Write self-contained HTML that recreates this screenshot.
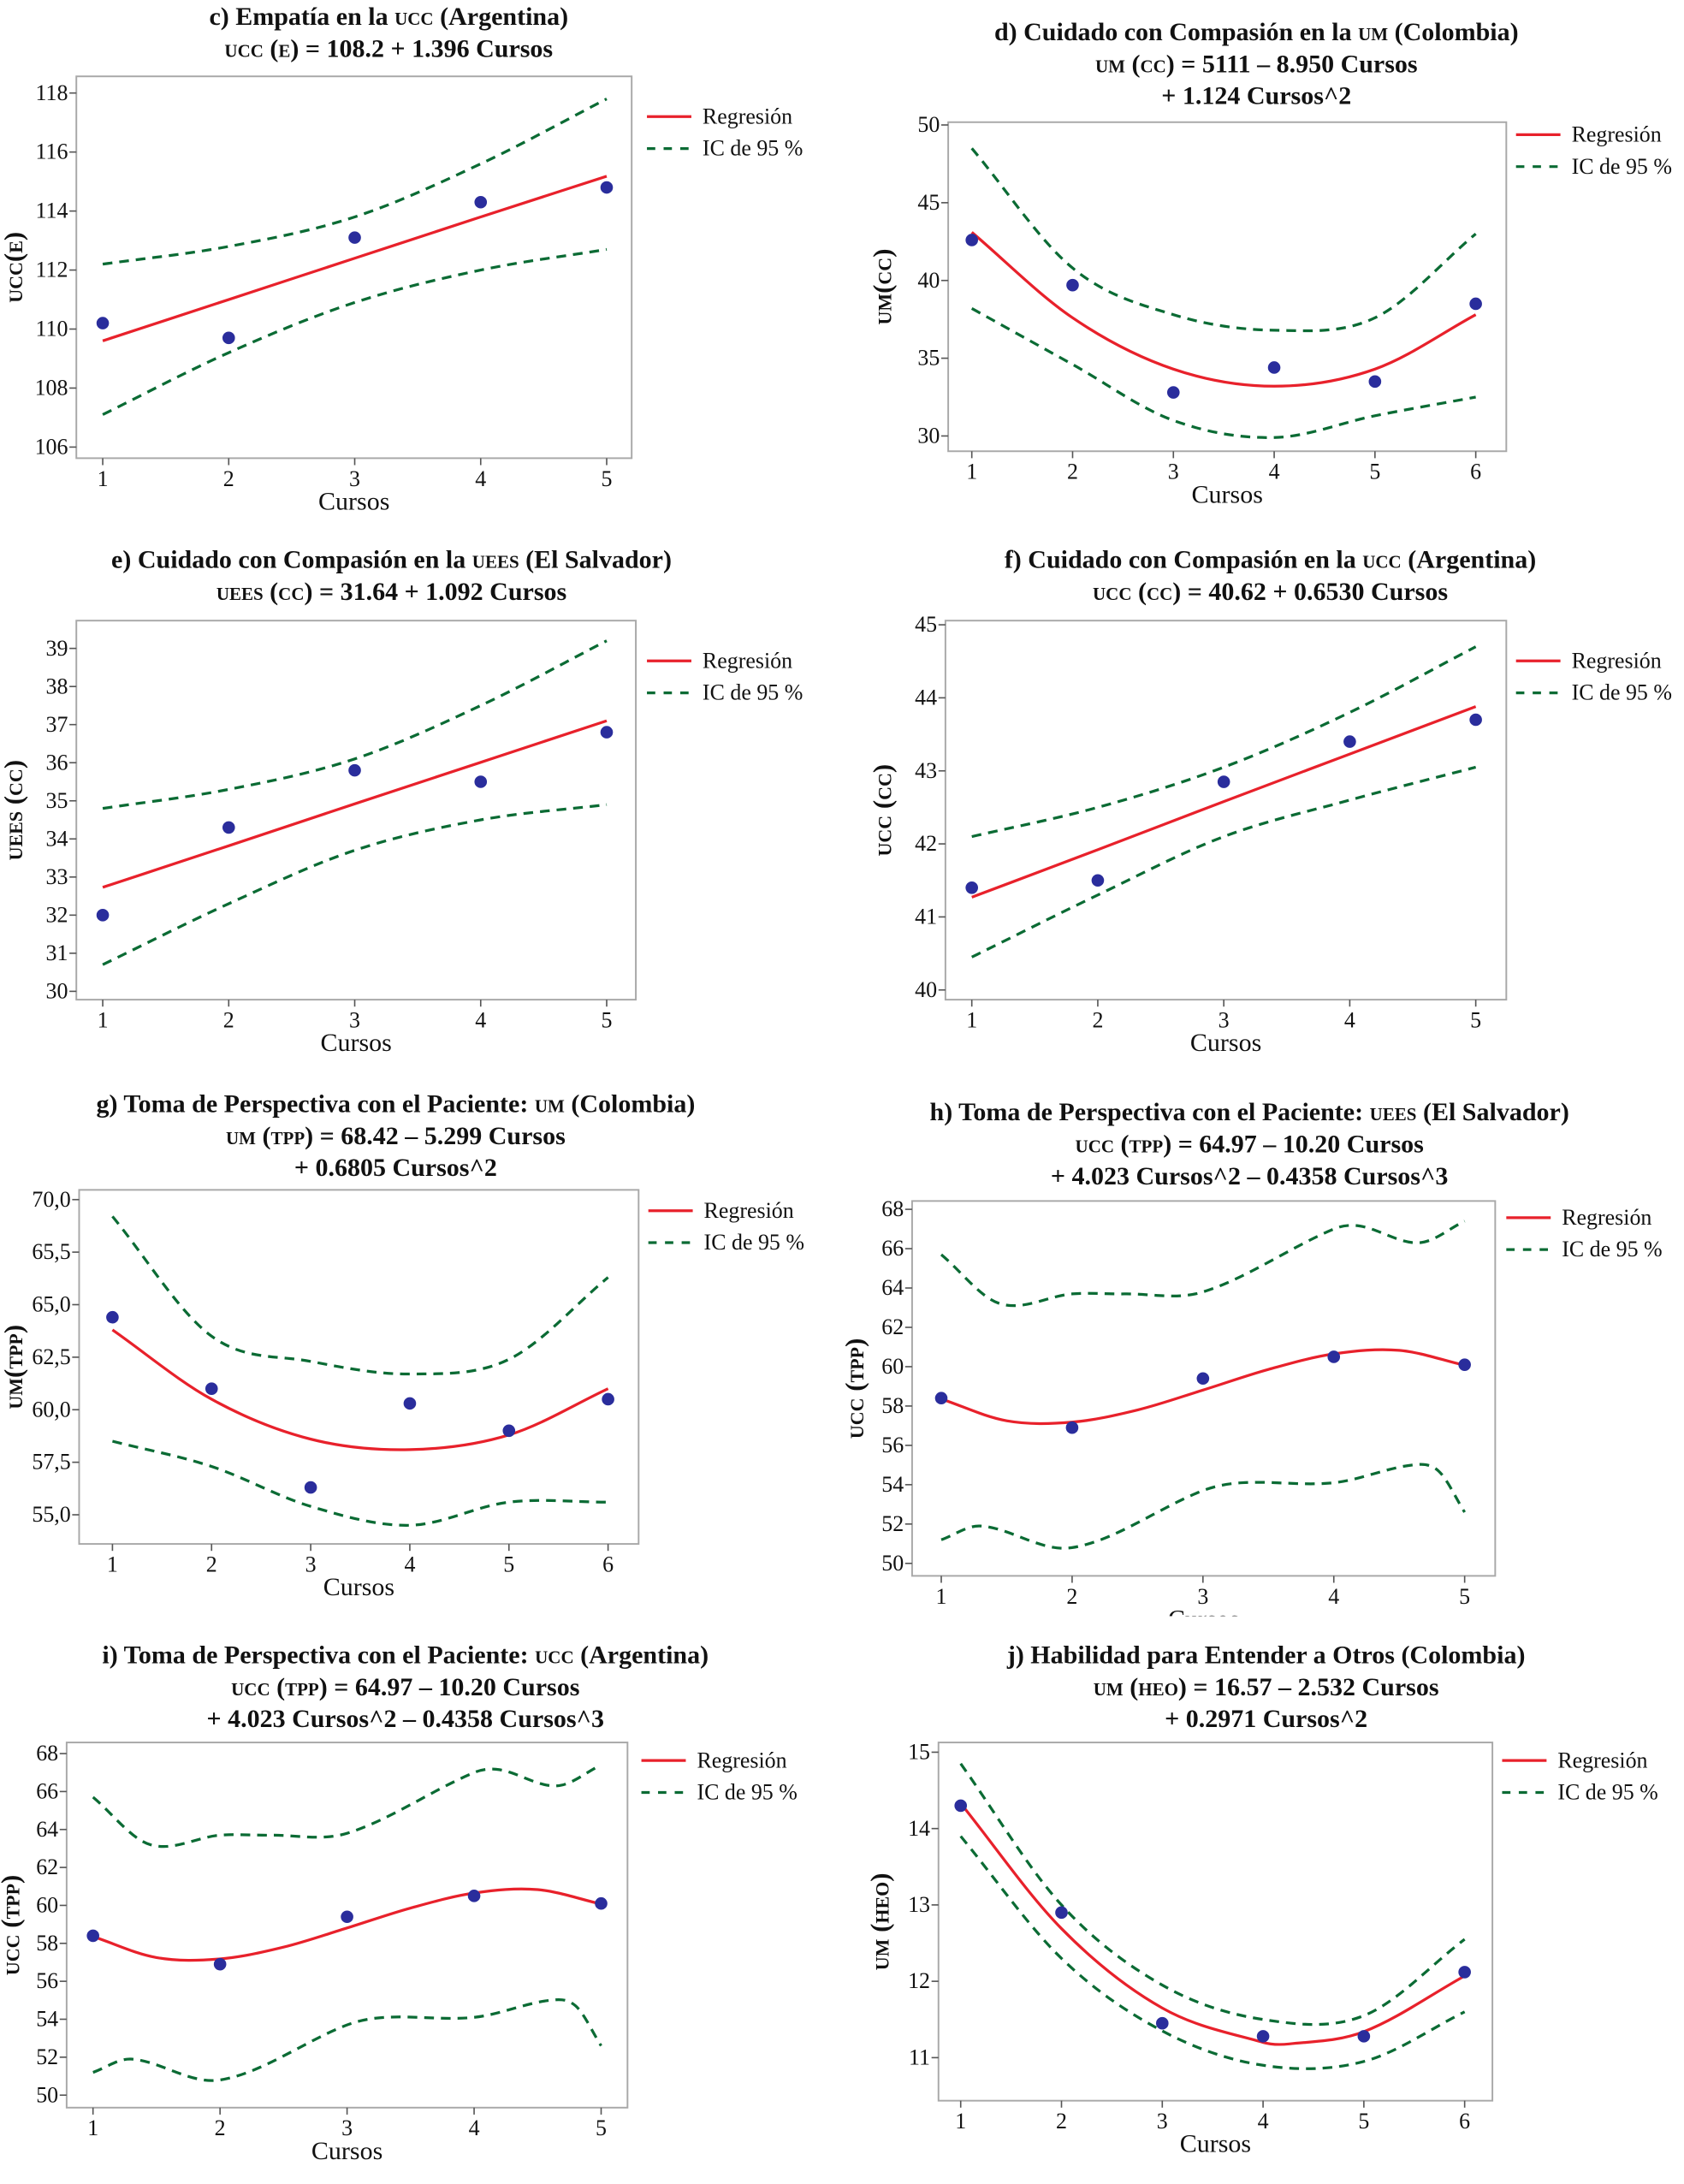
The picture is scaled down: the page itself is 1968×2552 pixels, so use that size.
<!DOCTYPE html>
<html><head><meta charset="utf-8">
<style>
html,body{margin:0;padding:0;background:#fff;}
svg{display:block;}
text{font-family:"Liberation Serif",serif;fill:#111;}
</style></head>
<body>
<svg id="fig" width="1968" height="2552" viewBox="0 0 1213 1573" preserveAspectRatio="none" xmlns="http://www.w3.org/2000/svg"></svg>
<script>
// ---- data ----
const cX = [1,2,3,4,5];
const cPts = [110.2,109.7,113.1,114.3,114.8];
const cReg = [109.6,111.0,112.4,113.8,115.18];
const cUp = [112.2,112.8,113.8,115.6,117.8];
const cLo = [107.1,109.2,110.9,112.0,112.7];
const cTicksY = [106,108,110,112,114,116,118];

const dX = [1,2,3,4,5,6];
const dPts = [42.6,39.7,32.8,34.4,33.5,38.5];
const dReg = [43.1,37.6,34.3,33.2,34.3,37.8];
const dUp = [48.5,40.8,37.8,36.8,37.6,43.0];
const dLo = [38.2,34.6,31.0,29.9,31.3,32.5];
const dTicksY = [30,35,40,45,50];

const eX = [1,2,3,4,5];
const ePts = [32.0,34.3,35.8,35.5,36.8];
const eReg = [32.73,33.82,34.92,36.01,37.1];
const eUp = [34.8,35.3,36.1,37.5,39.2];
const eLo = [30.7,32.3,33.7,34.5,34.9];
const eTicksY = [30,31,32,33,34,35,36,37,38,39];

const fX = [1,2,3,4,5];
const fPts = [41.4,41.5,42.85,43.4,43.7];
const fReg = [41.27,41.92,42.58,43.23,43.88];
const fUp = [42.1,42.5,43.05,43.8,44.7];
const fLo = [40.45,41.3,42.1,42.6,43.05];
const fTicksY = [40,41,42,43,44,45];

const gX = [1,2,3,4,5,6];
const gPts = [64.4,61.0,56.3,60.3,59.0,60.5];
const gReg = [63.8,60.5,58.6,58.1,58.8,61.0];
const gUp = [69.2,63.5,62.3,61.7,62.4,66.3];
const gLo = [58.5,57.3,55.4,54.5,55.6,55.6];
const gTicksY = [55,57.5,60,62.5,65,67.5,70];
const gTickLbl = ["55,0","57,5","60,0","62,5","65,0","65,5","70,0"];

const hPtsX = [1,2,3,4,5];
const hPts = [58.4,56.9,59.4,60.5,60.1];
const hRegX = [1,1.5,2,2.5,3,3.5,4,4.5,5];
const hReg = [58.36,57.25,57.18,57.8,58.81,59.86,60.65,60.83,60.07];
const hUpX = [1,1.45,2,2.4,3,4,4.2,4.65,5];
const hUp = [65.7,63.2,63.7,63.7,63.8,67.0,67.15,66.3,67.4];
const hLoX = [1,1.3,2,3,3.3,4,4.6,4.8,5];
const hLo = [51.2,51.9,50.8,53.7,54.1,54.1,55.0,54.7,52.6];
const hTicksY = [50,52,54,56,58,60,62,64,66,68];

const jX = [1,2,3,4,5,6];
const jPts = [14.3,12.9,11.45,11.28,11.28,12.12];
const jRegX = [1,2,3,4,4.26,5,6];
const jReg = [14.33,12.69,11.65,11.2,11.18,11.34,12.07];
const jUp = [14.85,13.0,11.95,11.5,11.55,12.55];
const jLo = [13.9,12.3,11.35,10.9,10.95,11.6];
const jTicksY = [11,12,13,14,15];

const svg = document.getElementById('fig');
const NS = 'http://www.w3.org/2000/svg';
function mk(tag, attrs, parent){
  const e = document.createElementNS(NS, tag);
  for (const k in attrs) e.setAttribute(k, attrs[k]);
  (parent||svg).appendChild(e);
  return e;
}
// cubic Hermite in x (smooth for non-uniform spacing)
function smooth(pts){
  const n = pts.length;
  const m = pts.map((p,i)=>{
    const a = pts[Math.max(0,i-1)], b = pts[Math.min(n-1,i+1)];
    return (b[1]-a[1])/(b[0]-a[0]);
  });
  let d = 'M'+pts[0][0]+','+pts[0][1];
  for (let i=0;i<n-1;i++){
    const p1=pts[i], p2=pts[i+1], dx=(p2[0]-p1[0])/3;
    d+=' C'+(p1[0]+dx)+','+(p1[1]+m[i]*dx)+' '+(p2[0]-dx)+','+(p2[1]-m[i+1]*dx)+' '+p2[0]+','+p2[1];
  }
  return d;
}
function titleLine(g, x, y, parts){
  const t = mk('text',{x:x,y:y,'text-anchor':'middle','font-size':18.5,'font-weight':'bold'},g);
  parts.forEach(p=>{
    const s = mk('tspan',{},t);
    if (p.sc){ s.setAttribute('font-variant','small-caps'); }
    s.textContent = p.t;
  });
  return t;
}
function panel(o){
  const g = mk('g',{});
  
  
  const xs = v => o.x0px + (v - o.x0) * (o.x1px - o.x0px) / (o.x1 - o.x0);
  const ys = v => o.y0px + (v - o.y0) * (o.y1px - o.y0px) / (o.y1 - o.y0);
  o.titles.forEach((parts,i)=>{
    const t = titleLine(g, o.tcx, o.ty + i*23, parts);
    
    
  });
  const fr = mk('rect',{x:o.L,y:o.T,width:o.R-o.L,height:o.B-o.T,fill:'none',stroke:'#a8a8a8','stroke-width':1.2},g);
  
  
  o.xticks.forEach(v=>{
    const X = xs(v);
    mk('line',{x1:X,x2:X,y1:o.B,y2:o.B+5,stroke:'#555','stroke-width':1},g);
    const t = mk('text',{x:X,y:o.B+20,'text-anchor':'middle','font-size':16},g);
    
    
    t.textContent = v;
  });
  o.yticks.forEach((v,i)=>{
    const Y = ys(v);
    mk('line',{x1:o.L-5,x2:o.L,y1:Y,y2:Y,stroke:'#555','stroke-width':1},g);
    const t = mk('text',{x:o.L-6,y:Y+5,'text-anchor':'end','font-size':16},g);
    
    
    t.textContent = o.ylabels ? o.ylabels[i] : v;
  });
  const xt = mk('text',{x:(o.L+o.R)/2,y:o.B+37,'text-anchor':'middle','font-size':18.5},g);
  
  
  xt.textContent = 'Cursos';
  const yc = (o.T+o.B)/2;
  const yt = mk('text',{x:0,y:0,'text-anchor':'middle','font-size':19,'font-weight':'bold','font-variant':'small-caps',transform:'translate('+(o.yLabX)+','+yc+') rotate(-90)'},g);
  
  
  yt.textContent = o.ylab;
  const up = mk('path',{d:smooth(o.upX.map((v,i)=>[xs(v),ys(o.up[i])])),fill:'none',stroke:'#0b6b34','stroke-width':2,'stroke-dasharray':'7,5'},g);
  
  
  const lo = mk('path',{d:smooth(o.loX.map((v,i)=>[xs(v),ys(o.lo[i])])),fill:'none',stroke:'#0b6b34','stroke-width':2,'stroke-dasharray':'7,5'},g);
  
  
  const rg = mk('path',{d:smooth(o.regX.map((v,i)=>[xs(v),ys(o.reg[i])])),fill:'none',stroke:'#e8212b','stroke-width':2},g);
  
  
  o.ptsX.forEach((v,i)=>{
    const c = mk('circle',{cx:xs(v),cy:ys(o.pts[i]),r:4.5,fill:'#2a2d9c'},g);
    
    
  });
  const lg = mk('g',{},g);
  
  
  mk('line',{x1:o.lx,x2:o.lx+32,y1:o.ly,y2:o.ly,stroke:'#e8212b','stroke-width':2},lg);
  const l1 = mk('text',{x:o.lx+40,y:o.ly+5,'font-size':16},lg);
  
  
  l1.textContent = 'Regresión';
  mk('line',{x1:o.lx,x2:o.lx+32,y1:o.ly+23,y2:o.ly+23,stroke:'#0b6b34','stroke-width':2,'stroke-dasharray':'6,6'},lg);
  const l2 = mk('text',{x:o.lx+40,y:o.ly+28,'font-size':16},lg);
  
  
  l2.textContent = 'IC de 95 %';
}

panel({name:'panel-c',L:55,R:455,T:55,B:330,x0:1,x1:5,x0px:74,x1px:437,y0:106,y1:118,y0px:322,y1px:67,
  xticks:[1,2,3,4,5],yticks:cTicksY,ylab:'ucc(e)',yLabX:16,tcx:280,ty:18,
  titles:[[{t:'c) Empatía en la '},{t:'ucc',sc:1},{t:' (Argentina)'}],[{t:'ucc (e)',sc:1},{t:' = 108.2 + 1.396 Cursos'}]],
  ptsX:cX,pts:cPts,regX:cX,reg:cReg,upX:cX,up:cUp,loX:cX,lo:cLo,lx:466,ly:84});

panel({name:'panel-d',L:683,R:1085,T:88,B:325,x0:1,x1:6,x0px:700,x1px:1063,y0:30,y1:50,y0px:314,y1px:90,
  xticks:[1,2,3,4,5,6],yticks:dTicksY,ylab:'um(cc)',yLabX:642,tcx:905,ty:29,
  titles:[[{t:'d) Cuidado con Compasión en la '},{t:'um',sc:1},{t:' (Colombia)'}],[{t:'um (cc)',sc:1},{t:' = 5111 – 8.950 Cursos'}],[{t:'+ 1.124 Cursos^2'}]],
  ptsX:dX,pts:dPts,regX:dX,reg:dReg,upX:dX,up:dUp,loX:dX,lo:dLo,lx:1092,ly:97});

panel({name:'panel-e',L:55,R:458,T:447,B:720,x0:1,x1:5,x0px:74,x1px:437,y0:30,y1:39,y0px:714,y1px:467,
  xticks:[1,2,3,4,5],yticks:eTicksY,ylab:'uees (cc)',yLabX:16,tcx:282,ty:409,
  titles:[[{t:'e) Cuidado con Compasión en la '},{t:'uees',sc:1},{t:' (El Salvador)'}],[{t:'uees (cc)',sc:1},{t:' = 31.64 + 1.092 Cursos'}]],
  ptsX:eX,pts:ePts,regX:eX,reg:eReg,upX:eX,up:eUp,loX:eX,lo:eLo,lx:466,ly:476});

panel({name:'panel-f',L:681,R:1085,T:447,B:720,x0:1,x1:5,x0px:700,x1px:1063,y0:40,y1:45,y0px:713,y1px:450,
  xticks:[1,2,3,4,5],yticks:fTicksY,ylab:'ucc (cc)',yLabX:642,tcx:915,ty:409,
  titles:[[{t:'f) Cuidado con Compasión en la '},{t:'ucc',sc:1},{t:' (Argentina)'}],[{t:'ucc (cc)',sc:1},{t:' = 40.62 + 0.6530 Cursos'}]],
  ptsX:fX,pts:fPts,regX:fX,reg:fReg,upX:fX,up:fUp,loX:fX,lo:fLo,lx:1092,ly:476});

panel({name:'panel-g',L:57,R:460,T:857,B:1112,x0:1,x1:6,x0px:81,x1px:438,y0:55,y1:70,y0px:1091,y1px:864,
  xticks:[1,2,3,4,5,6],yticks:gTicksY,ylabels:gTickLbl,ylab:'um(tpp)',yLabX:16,tcx:285,ty:801,
  titles:[[{t:'g) Toma de Perspectiva con el Paciente: '},{t:'um',sc:1},{t:' (Colombia)'}],[{t:'um (tpp)',sc:1},{t:' = 68.42 – 5.299 Cursos'}],[{t:'+ 0.6805 Cursos^2'}]],
  ptsX:gX,pts:gPts,regX:gX,reg:gReg,upX:gX,up:gUp,loX:gX,lo:gLo,lx:467,ly:872});

panel({name:'panel-h',L:657,R:1077,T:865,B:1135,x0:1,x1:5,x0px:678,x1px:1055,y0:50,y1:68,y0px:1126,y1px:871,
  xticks:[1,2,3,4,5],yticks:hTicksY,ylab:'ucc (tpp)',yLabX:622,tcx:900,ty:807,
  titles:[[{t:'h) Toma de Perspectiva con el Paciente: '},{t:'uees',sc:1},{t:' (El Salvador)'}],[{t:'ucc (tpp)',sc:1},{t:' = 64.97 – 10.20 Cursos'}],[{t:'+ 4.023 Cursos^2 – 0.4358 Cursos^3'}]],
  ptsX:hPtsX,pts:hPts,regX:hRegX,reg:hReg,upX:hUpX,up:hUp,loX:hLoX,lo:hLo,lx:1085,ly:877});

panel({name:'panel-i',L:48,R:452,T:1255,B:1518,x0:1,x1:5,x0px:67,x1px:433,y0:50,y1:68,y0px:1509,y1px:1263,
  xticks:[1,2,3,4,5],yticks:hTicksY,ylab:'ucc (tpp)',yLabX:14,tcx:292,ty:1198,
  titles:[[{t:'i) Toma de Perspectiva con el Paciente: '},{t:'ucc',sc:1},{t:' (Argentina)'}],[{t:'ucc (tpp)',sc:1},{t:' = 64.97 – 10.20 Cursos'}],[{t:'+ 4.023 Cursos^2 – 0.4358 Cursos^3'}]],
  ptsX:hPtsX,pts:hPts,regX:hRegX,reg:hReg,upX:hUpX,up:hUp,loX:hLoX,lo:hLo,lx:462,ly:1268});

panel({name:'panel-j',L:676,R:1075,T:1255,B:1513,x0:1,x1:6,x0px:692,x1px:1055,y0:11,y1:15,y0px:1482,y1px:1262,
  xticks:[1,2,3,4,5,6],yticks:jTicksY,ylab:'um (heo)',yLabX:640,tcx:912,ty:1198,
  titles:[[{t:'j) Habilidad para Entender a Otros (Colombia)'}],[{t:'um (heo)',sc:1},{t:' = 16.57 – 2.532 Cursos'}],[{t:'+ 0.2971 Cursos^2'}]],
  ptsX:jX,pts:jPts,regX:jRegX,reg:jReg,upX:jX,up:jUp,loX:jX,lo:jLo,lx:1082,ly:1268});

const cover = mk('rect',{x:640,y:1164,width:450,height:12,fill:'#fff'});


</script>
</body></html>
